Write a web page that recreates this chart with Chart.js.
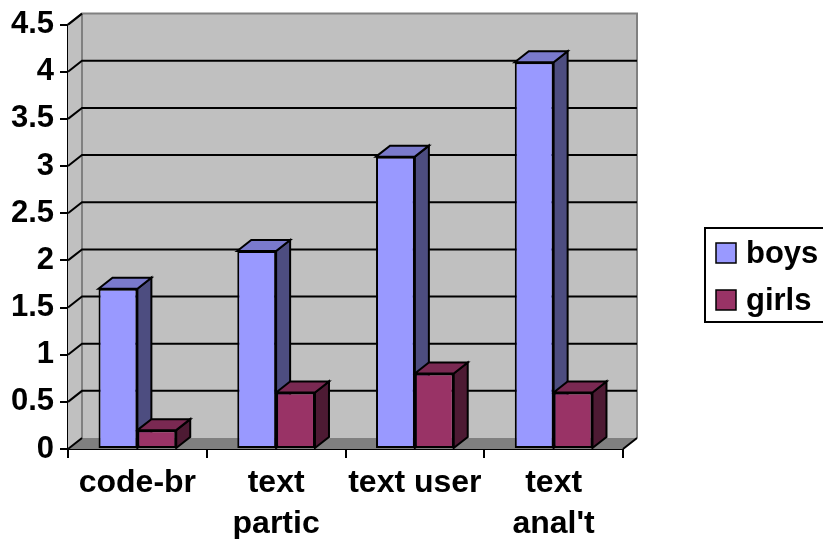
<!DOCTYPE html>
<html>
<head>
<meta charset="utf-8">
<script src="https://cdn.jsdelivr.net/npm/chart.js@4"></script>
<style>
  body { margin: 0; background: #fff; }
  canvas { display: block; }
</style>
</head>
<body>
<canvas id="chart-hasil" width="823" height="539"></canvas>
<script>
const kategori = ["code-br", ["text", "partic"], "text user", ["text", "anal't"]];
const boys = [1.7, 2.1, 3.1, 4.1];
const girls = [0.2, 0.6, 0.8, 0.6];
const yTicks = [0, 0.5, 1, 1.5, 2, 2.5, 3, 3.5, 4, 4.5];

// depth of the fake 3d box
const DX = 14;
const DY = -11;
const fontFam = "'Liberation Sans', Arial, sans-serif";

function poly(ctx, pts) {
  ctx.beginPath();
  ctx.moveTo(pts[0][0], pts[0][1]);
  for (let i = 1; i < pts.length; i++) ctx.lineTo(pts[i][0], pts[i][1]);
  ctx.closePath();
}

const wall3d = {
  id: "wall3d",
  beforeDatasetsDraw(chart) {
    const ctx = chart.ctx;
    const a = chart.chartArea;
    const y = chart.scales.y;
    ctx.save();
    // left wall + back wall
    ctx.fillStyle = "#c0c0c0";
    poly(ctx, [[a.left, a.top], [a.left + DX, a.top + DY], [a.left + DX, a.bottom + DY], [a.left, a.bottom]]);
    ctx.fill();
    ctx.fillRect(a.left + DX, a.top + DY, a.right - a.left, a.bottom - a.top);
    // floor
    ctx.fillStyle = "#808080";
    poly(ctx, [[a.left, a.bottom], [a.left + DX, a.bottom + DY], [a.right + DX, a.bottom + DY], [a.right, a.bottom]]);
    ctx.fill();
    // wall edges
    ctx.strokeStyle = "#808080";
    ctx.lineWidth = 2;
    ctx.beginPath();
    ctx.moveTo(a.left, a.top);
    ctx.lineTo(a.left + DX, a.top + DY);
    ctx.lineTo(a.right + DX, a.top + DY);
    ctx.lineTo(a.right + DX, a.bottom + DY);
    ctx.moveTo(a.left + DX, a.top + DY);
    ctx.lineTo(a.left + DX, a.bottom + DY);
    ctx.stroke();
    // grid lines on the walls
    ctx.strokeStyle = "#000";
    ctx.beginPath();
    yTicks.forEach((v) => {
      const py = y.getPixelForValue(v);
      ctx.moveTo(a.left, py);
      ctx.lineTo(a.left + DX, py + DY);
      if (v > 0 && v < 4.5) ctx.lineTo(a.right + DX, py + DY);
    });
    ctx.moveTo(a.right, a.bottom);
    ctx.lineTo(a.right + DX, a.bottom + DY);
    ctx.stroke();

    // top and side of each bar
    chart.data.datasets.forEach((ds, i) => {
      const meta = chart.getDatasetMeta(i);
      meta.data.forEach((bar) => {
        const p = bar.getProps(["x", "y", "base", "width"], true);
        const l = p.x - p.width / 2;
        const r = p.x + p.width / 2;
        ctx.lineWidth = 2;
        ctx.strokeStyle = "#000";
        ctx.fillStyle = ds.sideColor;
        poly(ctx, [[r, p.y], [r + DX, p.y + DY], [r + DX, p.base + DY], [r, p.base]]);
        ctx.fill();
        ctx.stroke();
        ctx.fillStyle = ds.topColor;
        poly(ctx, [[l, p.y], [l + DX, p.y + DY], [r + DX, p.y + DY], [r, p.y]]);
        ctx.fill();
        ctx.stroke();
      });
    });
    ctx.restore();
  },
  afterDraw(chart) {
    // legend box
    const ctx = chart.ctx;
    ctx.save();
    ctx.fillStyle = "#fff";
    ctx.fillRect(705, 228, 130, 94);
    ctx.strokeStyle = "#000";
    ctx.lineWidth = 2;
    ctx.strokeRect(705, 228, 130, 94);
    chart.data.datasets.forEach((ds, i) => {
      const cy = 253 + i * 47;
      ctx.fillStyle = ds.backgroundColor;
      ctx.fillRect(716, cy - 10, 20, 20);
      ctx.lineWidth = 1.5;
      ctx.strokeRect(716, cy - 10, 20, 20);
      ctx.fillStyle = "#000";
      ctx.font = "bold 31px " + fontFam;
      ctx.textBaseline = "middle";
      ctx.fillText(ds.label, 746, cy + 1);
    });
    ctx.restore();
  },
};

const ctx = document.getElementById("chart-hasil");
const chart = new Chart(ctx, {
  type: "bar",
  data: {
    labels: kategori,
    datasets: [
      {
        label: "boys",
        data: boys,
        backgroundColor: "#9999ff",
        topColor: "#7a7acc",
        sideColor: "#4d4d80",
        borderColor: "#000",
        borderWidth: 2,
        borderSkipped: false,
        barPercentage: 1,
        categoryPercentage: 0.56,
      },
      {
        label: "girls",
        data: girls,
        backgroundColor: "#993366",
        topColor: "#7a2952",
        sideColor: "#4d1a33",
        borderColor: "#000",
        borderWidth: 2,
        borderSkipped: false,
        barPercentage: 1,
        categoryPercentage: 0.56,
      },
    ],
  },
  plugins: [wall3d],
  options: {
    responsive: false,
    animation: false,
    layout: { padding: { left: 0, top: 24, right: 200, bottom: 0 } },
    plugins: {
      legend: { display: false },
      tooltip: { enabled: false },
    },
    scales: {
      x: {
        afterFit: (s) => { s.height = 90; },
        grid: { drawOnChartArea: false, drawTicks: true, tickLength: 9, color: "#000", lineWidth: 2 },
        border: { display: true, color: "#000", width: 2 },
        ticks: {
          color: "#000",
          padding: 4,
          maxRotation: 0,
          minRotation: 0,
          autoSkip: false,
          font: { family: fontFam, size: 32, weight: "bold", lineHeight: 1.3 },
        },
      },
      y: {
        min: 0,
        max: 4.5,
        afterFit: (s) => { s.width = 68; },
        afterBuildTicks: (s) => { s.ticks = yTicks.map((v) => ({ value: v })); },
        grid: { drawOnChartArea: false, drawTicks: true, tickLength: 8, color: "#000", lineWidth: 2 },
        border: { display: true, color: "#000", width: 2 },
        ticks: {
          color: "#000",
          padding: 6,
          callback: (v) => String(v),
          font: { family: fontFam, size: 31, weight: "bold" },
        },
      },
    },
  },
});
</script>
</body>
</html>
